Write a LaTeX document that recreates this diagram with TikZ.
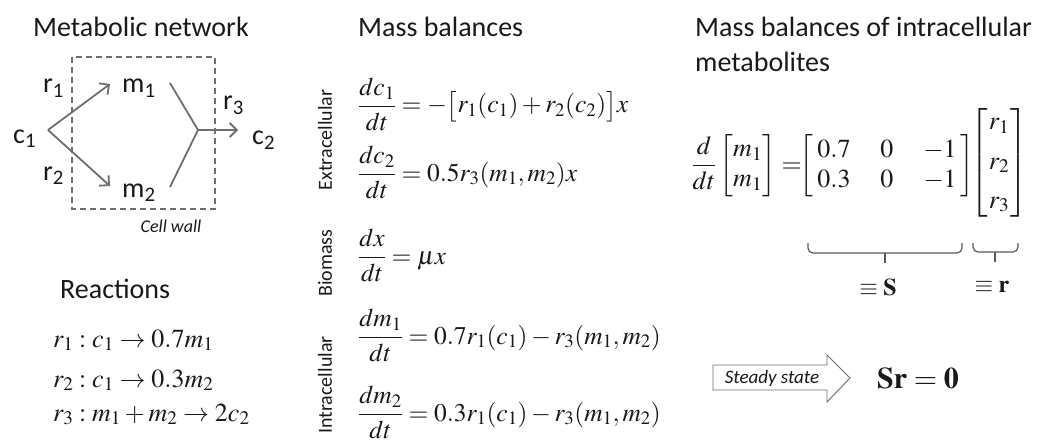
\documentclass[tikz,border=0pt]{standalone}
\usepackage{amsmath}
\usepackage{mathptmx}
\usepackage[no-math]{fontspec}
\setmainfont{Carlito}
\usetikzlibrary{arrows.meta}
\definecolor{ink}{RGB}{25,25,25}
\definecolor{flowgray}{RGB}{110,110,110}
\begin{document}
\begin{tikzpicture}[x=1pt,y=-1pt,
  title/.style={font=\fontsize{28}{32}\selectfont, text=ink, anchor=base west, inner sep=0},
  lab/.style={font=\fontsize{28}{32}\selectfont, text=ink, anchor=base west, inner sep=0},
  eqn/.style={font=\fontsize{25.5}{30}\selectfont, text=ink, anchor=base west, inner sep=0},
  reac/.style={font=\fontsize{26}{30}\selectfont, text=ink, anchor=base west, inner sep=0},
  rmat/.style={font=\fontsize{26}{30}\selectfont, text=ink, inner sep=0},
  side/.style={font=\fontsize{20}{22}\selectfont, text=ink, rotate=90, inner sep=0},
  flow/.style={draw=flowgray, line width=1.8pt},
  flowarrow/.style={flow, -{Straight Barb[length=7pt,width=14pt,line width=1.8pt]}},
  wall/.style={draw=flowgray, line width=1.5pt, dash pattern=on 6pt off 4pt},
  small/.style={font=\fontsize{18}{20}\selectfont\itshape, text=ink, inner sep=0},
  ubrace/.style={draw=flowgray!80!black, line width=1.2pt, rounded corners=5pt}
]
\useasboundingbox (0,0) rectangle (1041,441);

% ---------- Metabolic network ----------
\node[title] (t1) at (33,37) {Metabolic network};
\draw[wall] (72,57) rectangle (215,209);
\node[small] (cw) at (171,226) {Cell wall};

\node[lab] (c1) at (13,143) {c\textsubscript{1}};
\node[lab] (m1) at (122,93) {m\textsubscript{1}};
\node[lab] (m2) at (122,197) {m\textsubscript{2}};
\node[lab] (c2) at (252,145) {c\textsubscript{2}};
\node[lab] (r1) at (43,93) {r\textsubscript{1}};
\node[lab] (r2) at (43,180) {r\textsubscript{2}};
\node[lab] (r3) at (223,110) {r\textsubscript{3}};

\coordinate (split) at (48,130);
\coordinate (tipA) at (110,84);
\coordinate (tipB) at (110,186);
\coordinate (fromA) at (170,83);
\coordinate (fromB) at (170,187);
\coordinate (join) at (198,130);
\coordinate (tipC) at (238,130);
\draw[flowarrow] (split) -- (tipA);
\draw[flowarrow] (split) -- (tipB);
\draw[flow] (fromA) -- (join) -- (fromB);
\draw[flowarrow] (join) -- (tipC);

% ---------- Reactions ----------
\node[title] (t4) at (60,298) {Reactions};
\node[reac] (e1) at (53,347) {$r_1 : c_1 \rightarrow 0.7m_1$};
\node[reac] (e2) at (53,387) {$r_2 : c_1 \rightarrow 0.3m_2$};
\node[reac] (e3) at (53,421) {$r_3 : m_1 + m_2 \rightarrow 2c_2$};

% ---------- Mass balances ----------
\node[title] (t2) at (358,37) {Mass balances};
\node[side] (ex) at (325,140) {Extracellular};
\node[side] (bm) at (325,263) {Biomass};
\node[side] (ic) at (325,385) {Intracellular};
\node[eqn] (b1) at (358,113) {$\dfrac{dc_1}{dt} = -\bigl[r_1(c_1) + r_2(c_2)\bigr]x$};
\node[eqn] (b2) at (358,181) {$\dfrac{dc_2}{dt} = 0.5r_3(m_1,m_2)x$};
\node[eqn] (b3) at (358,264) {$\dfrac{dx}{dt} = \mu x$};
\node[eqn] (b4) at (358,344) {$\dfrac{dm_1}{dt} = 0.7r_1(c_1) - r_3(m_1,m_2)$};
\node[eqn] (b5) at (358,421) {$\dfrac{dm_2}{dt} = 0.3r_1(c_1) - r_3(m_1,m_2)$};

% ---------- Mass balances of intracellular metabolites ----------
\node[title] (t3) at (695,37) {Mass balances of intracellular};
\node[title] (t3b) at (695,72) {metabolites};
\node[rmat, anchor=base east] (lhs) at (802,172) {$\dfrac{d}{dt}\begin{bmatrix} m_1\\ m_1\end{bmatrix} =$};
\node[rmat] (S) at (887,166)
  {$\left[\begin{array}{@{\hspace{4pt}}c@{\hspace{30pt}}c@{\hspace{30pt}}c@{\hspace{4pt}}} 0.7 & 0 & -1\\ 0.3 & 0 & -1\end{array}\right]$};
\node[rmat] (rv) at (999,163)
  {$\left[\begin{array}{@{\hspace{1pt}}c@{\hspace{1pt}}} r_1\\[9pt] r_2\\[9pt] r_3\end{array}\right]$};
\coordinate (bSl) at (808,243);
\coordinate (bSr) at (962,243);
\coordinate (bSm) at (885,253);
\coordinate (bSt) at (885,263);
\coordinate (brl) at (973,243);
\coordinate (brr) at (1018,243);
\coordinate (brm) at (995,252);
\coordinate (brt) at (995,262);
\draw[ubrace] (bSl) |- (bSm) -| (bSr);
\draw[ubrace] (bSm) -- (bSt);
\draw[ubrace] (brl) |- (brm) -| (brr);
\draw[ubrace] (brm) -- (brt);
\node[font=\fontsize{24}{26}\selectfont, text=ink, inner sep=0] (Sdef) at (878,287) {$\equiv \mathbf{S}$};
\node[font=\fontsize{24}{26}\selectfont, text=ink, inner sep=0] (rdef) at (992,287) {$\equiv \mathbf{r}$};

\draw[draw=flowgray, line width=0.9pt, fill=white]
  (713,365) -- (827,365) -- (827,355) -- (850,378) -- (827,402) -- (827,390) -- (713,390) -- cycle;
\node[small, font=\fontsize{19}{21}\selectfont\itshape] (ss) at (772,378) {Steady state};
\node[font=\fontsize{30}{34}\selectfont, text=ink, inner sep=0] (sr) at (918,378) {$\mathbf{Sr} = \mathbf{0}$};
\end{tikzpicture}
\end{document}
